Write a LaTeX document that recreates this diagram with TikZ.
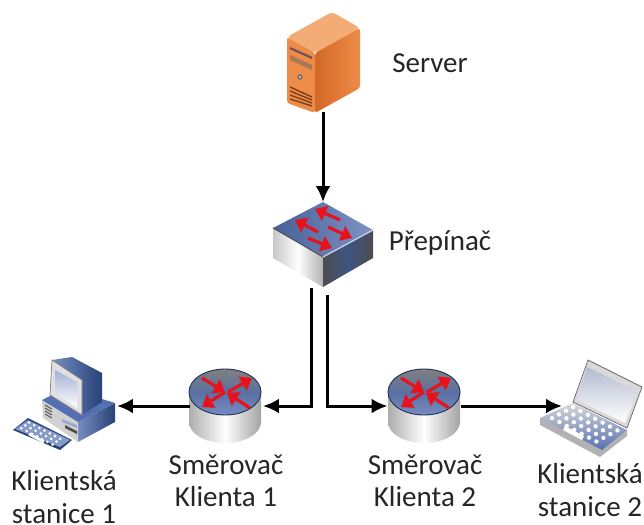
\documentclass[tikz,border=0pt]{standalone}
\usepackage{fontspec}
\setmainfont{Carlito}
\usetikzlibrary{arrows.meta, positioning}
\definecolor{srvorange}{RGB}{236,140,72}
\definecolor{srvdark}{RGB}{212,104,38}
\definecolor{srvlight}{RGB}{243,172,118}
\definecolor{topblue}{RGB}{84,112,178}
\definecolor{deepblue}{RGB}{40,66,118}
\definecolor{arrowred}{RGB}{232,18,28}
\tikzset{
    icon/.style={inner sep=0pt, outer sep=0pt},
    link/.style={line width=1.7pt, black, -{Latex[length=3.2mm,width=3mm]}},
    lbl/.style={font=\fontsize{16.5}{18.4}\selectfont, align=center, text=black!85, inner sep=0pt},
    redarrow/.style={line width=1.8pt, arrowred, -{Triangle[length=2.2mm,width=3.1mm]}},
    routerpic/.pic={
        % body
        \shade[left color=black!32, right color=black!36, middle color=white] (-36,-14) -- (-36,16) arc[start angle=180, end angle=360, x radius=36, y radius=-21] -- (36,-14) -- cycle;
        % top
        \shade[top color=black!50, bottom color=topblue!80!white, middle color=topblue!85!black!90, draw=deepblue!70!black, line width=0.5pt] (0,-14) ellipse[x radius=36, y radius=23];
        \draw[redarrow] (-23,-28) -- (0,-14);
        \draw[redarrow] (0,-14) -- (-23,1);
        \draw[redarrow] (3,-14) -- (27,-28);
        \draw[redarrow] (25,2) -- (2,-13);
    }
}
\begin{document}
\begin{tikzpicture}[x=0.02cm, y=-0.02cm]
    \useasboundingbox (0,0) rectangle (644,524);
    \fill[white] (0,0) rectangle (644,524);

    % Server
    \fill[srvlight, rounded corners=2pt] (287,37) -- (332,12) -- (360,28) -- (315,53) -- cycle;
    \fill[srvorange, rounded corners=1.5pt] (287,37) -- (315,53) -- (315,113) -- (287,103) -- cycle;
    \shade[left color=srvdark, right color=srvorange, rounded corners=1.5pt] (315,53) -- (360,28) -- (360,88) -- (315,113) -- cycle;
    \draw[line width=1.2pt, deepblue!60!srvdark] (290,48) -- (312,58);
    \fill[black!30!srvlight] (290,55) -- (312,65) -- (312,70) -- (290,60) -- cycle;
    \fill[black!60] (300,77) circle[radius=2.6];
    \fill[black!12] (300,77) circle[radius=1.2];
    \foreach \k in {0,1,2,3}
        \draw[line width=0.8pt, srvdark!60!black] (290,{87+\k*4}) -- (312,{97+\k*3});

    % Switch
    \shade[left color=black!22, right color=black!30, middle color=white] (273,228) -- (323,257) -- (323,287) -- (273,258) -- cycle;
    \shade[left color=black!70, right color=black!70, middle color=deepblue!90] (323,257) -- (373,230) -- (373,258) -- (323,287) -- cycle;
    \shade[left color=topblue!85!black, right color=topblue!75!white] (323,202) -- (373,230) -- (323,257) -- (273,228) -- cycle;
    \draw[line width=0.5pt, black!70] (273,228) -- (323,257);
    \draw[line width=0.7pt, white!70!topblue] (323,257) -- (373,230);
    \draw[redarrow] (340,220) -- (315,209);
    \draw[redarrow] (318,232) -- (295,220);
    \draw[redarrow] (328,227) -- (352,238);
    \draw[redarrow] (308,238) -- (332,248);

    % Routers
    \pic at (225,406) {routerpic};
    \pic at (424,406) {routerpic};

    % PC
    \shade[left color=topblue!80, right color=deepblue] (78,422) -- (115,403) -- (115,422) -- (78,442) -- cycle;
    \fill[black!18] (42,400) -- (78,422) -- (78,442) -- (43,418) -- cycle;
    \fill[topblue] (42,400) -- (66,388) -- (115,403) -- (78,422) -- cycle;
    \foreach \k in {0,1,2,3}
        \draw[line width=0.6pt, black!65] (45,{405+\k*3}) -- (52,{409+\k*3});
    \fill[black!70] (65,425) -- (77,431) -- (77,434) -- (65,428) -- cycle;
    \fill[topblue!60!white] (62,419) -- (77,425) -- (77,428) -- (62,422) -- cycle;
    \shade[left color=topblue!80, right color=deepblue] (52,360) -- (72,357) -- (102,373) -- (102,402) -- (82,415) -- (82,380) -- cycle;
    \fill[black!12, draw=black!50, line width=0.4pt] (52,360) -- (82,380) -- (82,415) -- (50,395) -- cycle;
    \shade[top color=topblue!55!white, bottom color=white] (55,370) -- (77,382) -- (77,408) -- (55,393) -- cycle;
    \fill[deepblue] (13,430) -- (28,418) -- (72,440) -- (60,450) -- cycle;
    \fill[topblue!70!white] (15,429) -- (28,420) -- (70,440) -- (60,447) -- cycle;
    \foreach \i in {0,...,6}
        \foreach \j in {0,1,2}
            \fill[white] ({29+\i*5.2-\j*3.8},{422.5+\i*2.7+\j*2.9}) circle[radius=1.5];
    \draw[white, line width=1.6pt] (29,434) -- (44,442);

    % Laptop
    \fill[black!30] (540,418) -- (540,425) -- (600,457) -- (627,436) -- (627,430) -- cycle;
    \shade[top color=black!15, bottom color=topblue] (573,403) -- (627,430) -- (602,450) -- (540,418) -- cycle;
    \fill[black!15, draw=black!60, line width=0.4pt] (588,360) -- (642,387) -- (627,428) -- (573,402) -- cycle;
    \shade[top color=black!25!topblue!40!white, bottom color=white] (587,367) -- (638,392) -- (625,423) -- (577,400) -- cycle;
    \foreach \i in {0,...,6}
        \foreach \j in {0,1,2,3}
            \fill[white] ({573+\i*7.4-\j*7},{407+\i*3.9+\j*3.7}) circle[radius=2.2];
    \draw[white, line width=2.6pt] (564,428) -- (583,438);

    % Invisible boxes the connectors attach to
    \node[icon, minimum width=1.46cm, minimum height=2.02cm] (server) at (323,62) {};
    \node[icon, minimum width=2cm, minimum height=1.7cm] (switch) at (323,244.5) {};
    \node[icon, minimum width=1.46cm, minimum height=1.48cm] (router1) at (226.5,406) {};
    \node[icon, minimum width=1.46cm, minimum height=1.48cm] (router2) at (424,406) {};
    \node[icon, minimum width=2.08cm, minimum height=1.92cm] (pc) at (65,406) {};
    \node[icon, minimum width=1.56cm, minimum height=1.92cm] (laptop) at (601,406) {};
    \coordinate (port1) at (311,288);
    \coordinate (port2) at (327,295);

    % Connectors
    \draw[link] (server.south) -- (switch.north);
    \draw[link] (port1) |- (router1.east);
    \draw[link] (port2) |- (router2.west);
    \draw[link] (router1.west) -- (pc.east);
    \draw[link] (router2.east) -- (laptop.west);

    % Labels
    \node[lbl] (serverlbl) at (430,63) {Server};
    \node[lbl] (switchlbl) at (440,243) {Přepínač};
    \node[lbl] (router1lbl) at (226,481) {Směrovač\\Klienta 1};
    \node[lbl] (router2lbl) at (425,481) {Směrovač\\Klienta 2};
    \node[lbl] (pclbl) at (64,497) {Klientská\\stanice 1};
    \node[lbl] (laptoplbl) at (590,490) {Klientská\\stanice 2};
\end{tikzpicture}
\end{document}
